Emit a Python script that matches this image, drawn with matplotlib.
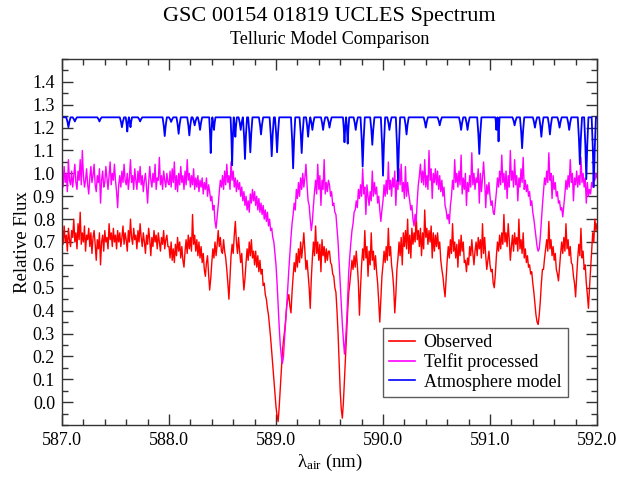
import numpy as np
import matplotlib
matplotlib.use("Agg")
import matplotlib.pyplot as plt
from matplotlib.ticker import MultipleLocator, FormatStrFormatter

plt.rcParams['font.family'] = ['Liberation Serif', 'DejaVu Serif']
plt.rcParams['mathtext.fontset'] = 'custom'
plt.rcParams['mathtext.rm'] = 'Liberation Serif'

# ---------------- data ----------------
wl_start, wl_step = 587.0, 0.01   # sampling of observed / processed spectra (nm)

observed = [
    # 587.00 - 587.49
    0.74, 0.69, 0.77, 0.70, 0.73, 0.66, 0.76, 0.71, 0.68, 0.75, 0.72, 0.80, 0.70, 0.74, 0.67, 0.78, 0.71, 0.83, 0.69, 0.74, 0.70, 0.77, 0.66, 0.73, 0.71,
    0.76, 0.68, 0.74, 0.65, 0.72, 0.75, 0.69, 0.62, 0.71, 0.67, 0.74, 0.60, 0.70, 0.73, 0.66, 0.75, 0.70, 0.72, 0.67, 0.78, 0.71, 0.74, 0.68, 0.76, 0.70,
    # 587.50 - 587.99
    0.73, 0.67, 0.75, 0.70, 0.74, 0.68, 0.72, 0.77, 0.69, 0.74, 0.71, 0.66, 0.75, 0.70, 0.80, 0.72, 0.69, 0.76, 0.71, 0.73, 0.67, 0.75, 0.70, 0.78, 0.72,
    0.68, 0.74, 0.70, 0.65, 0.73, 0.69, 0.76, 0.71, 0.64, 0.72, 0.68, 0.75, 0.70, 0.73, 0.67, 0.74, 0.70, 0.66, 0.72, 0.69, 0.75, 0.67, 0.71, 0.73, 0.68,
    # 588.00 - 588.49
    0.68, 0.63, 0.70, 0.62, 0.67, 0.61, 0.69, 0.64, 0.72, 0.66, 0.70, 0.63, 0.68, 0.62, 0.59, 0.66, 0.71, 0.65, 0.73, 0.67, 0.72, 0.66, 0.82, 0.69, 0.73,
    0.66, 0.71, 0.64, 0.70, 0.63, 0.68, 0.61, 0.65, 0.58, 0.55, 0.61, 0.64, 0.56, 0.49, 0.54, 0.61, 0.67, 0.63, 0.70, 0.64, 0.69, 0.75, 0.68, 0.72, 0.66,
    # 588.50 - 588.99
    0.65, 0.71, 0.66, 0.63, 0.58, 0.52, 0.45, 0.55, 0.64, 0.69, 0.65, 0.73, 0.79, 0.70, 0.65, 0.72, 0.66, 0.61, 0.65, 0.56, 0.49, 0.54, 0.61, 0.67, 0.62,
    0.70, 0.64, 0.71, 0.63, 0.66, 0.60, 0.66, 0.59, 0.64, 0.57, 0.62, 0.56, 0.58, 0.51, 0.52, 0.47, 0.45, 0.41, 0.38, 0.33, 0.28, 0.22, 0.16, 0.10, 0.04,
    # 589.00 - 589.49
    -0.02, -0.06, -0.085, -0.02, 0.06, 0.14, 0.22, 0.27, 0.31, 0.36, 0.42, 0.45, 0.47, 0.42, 0.39, 0.48, 0.55, 0.61, 0.57, 0.65, 0.59, 0.67, 0.61, 0.70, 0.63,
    0.68, 0.74, 0.66, 0.58, 0.62, 0.56, 0.50, 0.41, 0.54, 0.63, 0.70, 0.64, 0.77, 0.65, 0.70, 0.62, 0.69, 0.57, 0.71, 0.64, 0.68, 0.61, 0.67, 0.62, 0.66,
    # 589.50 - 589.99
    0.66, 0.61, 0.60, 0.56, 0.55, 0.50, 0.48, 0.40, 0.30, 0.18, 0.05, -0.03, -0.07, 0.00, 0.10, 0.20, 0.30, 0.40, 0.48, 0.52, 0.57, 0.62, 0.58, 0.64, 0.59,
    0.66, 0.60, 0.52, 0.38, 0.50, 0.60, 0.67, 0.62, 0.75, 0.63, 0.68, 0.55, 0.66, 0.60, 0.74, 0.62, 0.66, 0.58, 0.64, 0.57, 0.52, 0.44, 0.35, 0.45, 0.55,
    # 590.00 - 590.49
    0.60, 0.66, 0.61, 0.68, 0.62, 0.76, 0.64, 0.68, 0.60, 0.56, 0.50, 0.39, 0.47, 0.58, 0.63, 0.70, 0.64, 0.72, 0.60, 0.74, 0.68, 0.75, 0.67, 0.80, 0.65,
    0.73, 0.63, 0.76, 0.69, 0.74, 0.70, 0.82, 0.71, 0.75, 0.68, 0.76, 0.64, 0.74, 0.67, 0.84, 0.72, 0.76, 0.69, 0.75, 0.70, 0.77, 0.63, 0.74, 0.66, 0.73,
    # 590.50 - 590.99
    0.68, 0.74, 0.67, 0.70, 0.62, 0.58, 0.55, 0.50, 0.46, 0.54, 0.62, 0.68, 0.63, 0.71, 0.65, 0.78, 0.66, 0.70, 0.63, 0.69, 0.59, 0.71, 0.64, 0.73, 0.66,
    0.70, 0.61, 0.62, 0.57, 0.63, 0.60, 0.68, 0.64, 0.71, 0.65, 0.60, 0.66, 0.70, 0.64, 0.72, 0.67, 0.71, 0.63, 0.78, 0.65, 0.72, 0.64, 0.58, 0.62, 0.66,
    # 591.00 - 591.49
    0.60, 0.57, 0.58, 0.52, 0.50, 0.56, 0.64, 0.70, 0.66, 0.73, 0.67, 0.74, 0.69, 0.82, 0.70, 0.74, 0.68, 0.78, 0.71, 0.62, 0.68, 0.73, 0.66, 0.74, 0.69,
    0.72, 0.66, 0.80, 0.67, 0.71, 0.65, 0.74, 0.63, 0.67, 0.61, 0.64, 0.59, 0.60, 0.56, 0.57, 0.52, 0.48, 0.43, 0.38, 0.35, 0.34, 0.38, 0.44, 0.52, 0.58,
    # 591.50 - 591.99
    0.58, 0.63, 0.67, 0.71, 0.66, 0.79, 0.67, 0.71, 0.64, 0.68, 0.62, 0.65, 0.58, 0.56, 0.53, 0.59, 0.65, 0.70, 0.65, 0.72, 0.66, 0.78, 0.67, 0.71, 0.64,
    0.68, 0.61, 0.60, 0.55, 0.52, 0.46, 0.55, 0.63, 0.69, 0.64, 0.76, 0.63, 0.66, 0.58, 0.60, 0.52, 0.47, 0.41, 0.50, 0.58, 0.66, 0.74, 0.70, 0.80, 0.75,
    # 592.00
    0.78,
]

telfit = [
    # 587.00 - 587.49
    0.98, 0.94, 1.03, 0.96, 1.00, 0.92, 1.06, 0.97, 0.95, 1.01, 0.94, 0.99, 1.04, 0.96, 0.93, 1.01, 0.97, 1.06, 0.95, 1.10, 0.99, 0.94, 0.97, 1.02, 0.95,
    0.91, 0.98, 1.03, 0.96, 0.99, 1.04, 0.95, 0.92, 0.99, 0.96, 1.02, 0.87, 0.97, 1.01, 0.94, 0.96, 1.03, 0.98, 0.93, 0.99, 1.05, 0.95, 1.00, 0.97, 1.04,
    # 587.50 - 587.99
    0.97, 0.92, 0.85, 0.95, 0.99, 0.94, 1.01, 0.96, 1.04, 0.97, 0.95, 1.00, 0.93, 0.98, 1.06, 0.96, 0.99, 0.93, 1.02, 0.97, 0.93, 1.01, 0.96, 1.03, 0.95,
    0.99, 0.92, 0.97, 1.00, 0.94, 0.87, 0.96, 1.03, 0.97, 0.94, 1.00, 0.96, 1.04, 0.93, 0.98, 0.97, 1.07, 0.95, 0.99, 0.93, 1.01, 0.97, 0.94, 1.00, 0.96,
    # 588.00 - 588.49
    0.95, 1.01, 0.94, 1.02, 0.96, 1.05, 0.93, 0.99, 0.92, 1.00, 0.95, 1.03, 0.96, 0.99, 0.93, 1.01, 0.95, 1.06, 0.97, 1.00, 0.94, 0.99, 0.95, 1.02, 0.93,
    0.98, 0.94, 0.99, 0.92, 0.97, 0.94, 0.98, 0.91, 0.96, 0.93, 0.98, 0.90, 0.95, 0.92, 0.88, 0.90, 0.84, 0.86, 0.79, 0.76, 0.81, 0.86, 0.92, 0.97, 0.94,
    # 588.50 - 588.99
    0.99, 0.93, 1.01, 0.95, 1.04, 0.96, 0.99, 0.93, 1.05, 0.97, 1.01, 0.94, 0.98, 0.92, 0.97, 0.93, 0.96, 0.90, 0.94, 0.88, 0.92, 0.86, 0.90, 0.84, 0.88,
    0.83, 0.91, 0.87, 0.93, 0.88, 0.92, 0.86, 0.90, 0.84, 0.89, 0.83, 0.87, 0.82, 0.86, 0.80, 0.84, 0.79, 0.83, 0.77, 0.80, 0.75, 0.76, 0.72, 0.70, 0.65,
    # 589.00 - 589.49
    0.60, 0.52, 0.42, 0.33, 0.25, 0.20, 0.17, 0.20, 0.28, 0.35, 0.42, 0.50, 0.58, 0.65, 0.72, 0.78, 0.82, 0.87, 0.84, 0.93, 0.89, 0.96, 0.90, 0.98, 0.93,
    1.00, 0.94, 0.98, 1.04, 0.95, 0.88, 0.86, 0.80, 0.75, 0.79, 0.86, 0.92, 0.97, 0.91, 1.04, 0.93, 0.99, 0.86, 0.97, 0.93, 1.06, 0.91, 0.96, 0.92, 0.97,
    # 589.50 - 589.99
    0.95, 0.90, 0.92, 0.86, 0.87, 0.83, 0.82, 0.76, 0.70, 0.61, 0.52, 0.43, 0.34, 0.27, 0.21, 0.27, 0.35, 0.46, 0.57, 0.64, 0.70, 0.75, 0.78, 0.83, 0.84,
    0.88, 0.85, 0.93, 0.89, 0.95, 0.90, 1.02, 0.91, 0.94, 0.82, 0.95, 0.90, 0.86, 0.92, 0.88, 1.01, 0.90, 0.96, 0.91, 0.94, 0.87, 0.90, 0.84, 0.79, 0.84,
    # 590.00 - 590.49
    0.88, 0.95, 0.90, 0.97, 0.91, 1.05, 0.93, 0.97, 0.90, 0.98, 0.94, 1.01, 0.86, 0.97, 0.93, 1.02, 0.95, 1.04, 0.92, 0.96, 0.89, 1.03, 0.90, 0.96, 0.91,
    0.88, 0.84, 0.86, 0.80, 0.77, 0.82, 0.79, 0.88, 0.95, 0.99, 1.04, 0.96, 1.01, 0.95, 1.06, 0.94, 0.99, 0.93, 1.10, 0.97, 1.02, 0.89, 1.00, 0.96, 1.02,
    # 590.50 - 590.99
    0.95, 1.01, 0.93, 0.99, 0.92, 0.97, 0.90, 0.94, 0.86, 0.84, 0.80, 0.82, 0.78, 0.86, 0.90, 0.97, 0.93, 1.06, 0.96, 1.00, 0.94, 1.01, 0.95, 1.08, 0.91,
    0.98, 0.93, 1.00, 0.86, 0.96, 0.92, 0.99, 0.94, 1.09, 0.95, 1.00, 0.93, 0.98, 0.96, 1.02, 0.87, 1.00, 0.92, 0.98, 1.05, 0.97, 0.85, 0.95, 0.91, 0.96,
    # 591.00 - 591.49
    0.90, 0.86, 0.88, 0.83, 0.82, 0.87, 0.92, 0.98, 0.94, 1.01, 0.95, 1.08, 0.96, 1.00, 0.93, 1.01, 0.89, 0.99, 0.94, 1.10, 0.97, 1.01, 0.94, 1.06, 0.95,
    0.99, 0.88, 0.98, 0.94, 1.02, 0.96, 1.07, 0.93, 0.97, 0.92, 0.95, 0.90, 0.92, 0.86, 0.88, 0.83, 0.80, 0.76, 0.72, 0.68, 0.66, 0.67, 0.72, 0.79, 0.86,
    # 591.50 - 591.99
    0.92, 0.98, 0.95, 1.01, 0.96, 1.09, 0.97, 1.00, 0.89, 0.99, 0.93, 0.96, 0.90, 0.92, 0.87, 0.88, 0.84, 0.85, 0.81, 0.86, 0.91, 0.97, 0.93, 0.99, 0.94,
    1.06, 0.96, 1.00, 0.88, 0.98, 0.95, 1.01, 0.94, 0.99, 0.95, 1.07, 0.96, 1.00, 0.94, 0.98, 0.87, 0.96, 0.90, 0.93, 0.91, 0.96, 0.94, 1.04, 0.97, 1.00,
    # 592.00
    0.98,
]

# atmosphere model: continuum level and telluric line centres / minima
model_continuum = 1.245
model_line_wl = [587.06, 587.12, 587.35, 587.56, 587.61, 587.64, 587.73, 587.96, 588.02, 588.09,
                 588.19, 588.24, 588.29, 588.39, 588.42, 588.59, 588.62, 588.67, 588.71, 588.76,
                 588.86, 588.96, 589.01, 589.16, 589.24, 589.30, 589.34, 589.44, 589.50, 589.64,
                 589.67, 589.745, 589.81, 589.90, 590.00, 590.06, 590.14, 590.22, 590.40, 590.53,
                 590.73, 590.79, 590.90, 591.06, 591.08, 591.23, 591.30, 591.42, 591.48, 591.56,
                 591.65, 591.74, 591.84, 591.90, 591.97]
model_line_min = [1.202, 1.227, 1.227, 1.202, 1.183, 1.202, 1.227, 1.163, 1.225, 1.173,
                  1.166, 1.21, 1.19, 1.089, 1.19, 1.036, 1.16, 1.19, 1.063, 1.092,
                  1.17, 1.075, 1.092, 1.022, 1.089, 1.16, 1.19, 1.19, 1.20, 1.136,
                  1.13, 1.19, 1.03, 1.125, 0.99, 1.19, 0.967, 1.17, 1.20, 1.21,
                  1.19, 1.19, 1.085, 1.19, 1.14, 1.21, 1.11, 1.20, 1.16, 1.17,
                  1.20, 1.19, 1.04, 0.975, 0.94]

# ---------------- build series ----------------
wl = wl_start + wl_step * np.arange(len(observed))

lw_c = np.array(model_line_wl)
lw_m = np.array(model_line_min)
mx, my = [587.0], [model_continuum]
for k, (c, m) in enumerate(zip(lw_c, lw_m)):
    gaps = []
    if k > 0:
        gaps.append(c - lw_c[k - 1])
    if k < len(lw_c) - 1:
        gaps.append(lw_c[k + 1] - c)
    hw = min(0.02, 0.48 * min(gaps))
    d = model_continuum - m
    mx += [c - hw, c - 0.45 * hw, c, c + 0.45 * hw, c + hw]
    my += [model_continuum, model_continuum - 0.45 * d, m, model_continuum - 0.45 * d, model_continuum]
mx.append(592.0)
my.append(model_continuum)

# ---------------- figure ----------------
fig = plt.figure(figsize=(6.34, 4.79), dpi=100)
ax = fig.add_axes([62 / 634, 1 - 425 / 479, 535 / 634, 366 / 479])

ax.plot(wl, observed, color='#ff0000', lw=1.0, label='Observed')
ax.plot(wl, telfit, color='#ff00ff', lw=1.0, label='Telfit processed')
ax.plot(mx, my, color='#0000ff', lw=1.3, label='Atmosphere model')

ax.set_xlim(587.0, 592.0)
ax.set_ylim(-0.1, 1.5)
ax.set_xticks(np.arange(587.0, 592.01, 1.0))
ax.xaxis.set_minor_locator(MultipleLocator(0.2))
ax.set_yticks(np.arange(0.0, 1.41, 0.1))
ax.yaxis.set_minor_locator(MultipleLocator(0.05))
ax.xaxis.set_major_formatter(FormatStrFormatter('%.1f'))
ax.yaxis.set_major_formatter(FormatStrFormatter('%.1f'))
ax.tick_params(which='both', direction='in', top=True, right=True, color='#333333')
ax.tick_params(which='major', length=8, width=1.0, labelsize=13, pad=5)
ax.tick_params(which='minor', length=4.5, width=1.0)
for s in ax.spines.values():
    s.set_linewidth(1.0)
    s.set_color('#333333')

ax.set_ylabel('Relative Flux', fontsize=13.5, labelpad=1)
ax.set_xlabel(r'$\mathregular{\lambda_{air}}$ (nm)', fontsize=13.5, labelpad=2)

fig.text(329.5 / 634, 1 - 16 / 479, 'GSC 00154 01819 UCLES Spectrum', ha='center', va='center', fontsize=16)
fig.text(329.5 / 634, 1 - 39 / 479, 'Telluric Model Comparison', ha='center', va='center', fontsize=13)

leg = ax.legend(loc='upper left', bbox_to_anchor=(0.6, 0.265), borderaxespad=0,
                fontsize=13, frameon=True, fancybox=False, handlelength=1.4,
                handletextpad=0.5, labelspacing=0.12, borderpad=0.35)
leg.get_frame().set_edgecolor('#333333')
leg.get_frame().set_linewidth(1.0)
for line in leg.get_lines():
    line.set_linewidth(1.2)

fig.savefig('out.png', dpi=100)
